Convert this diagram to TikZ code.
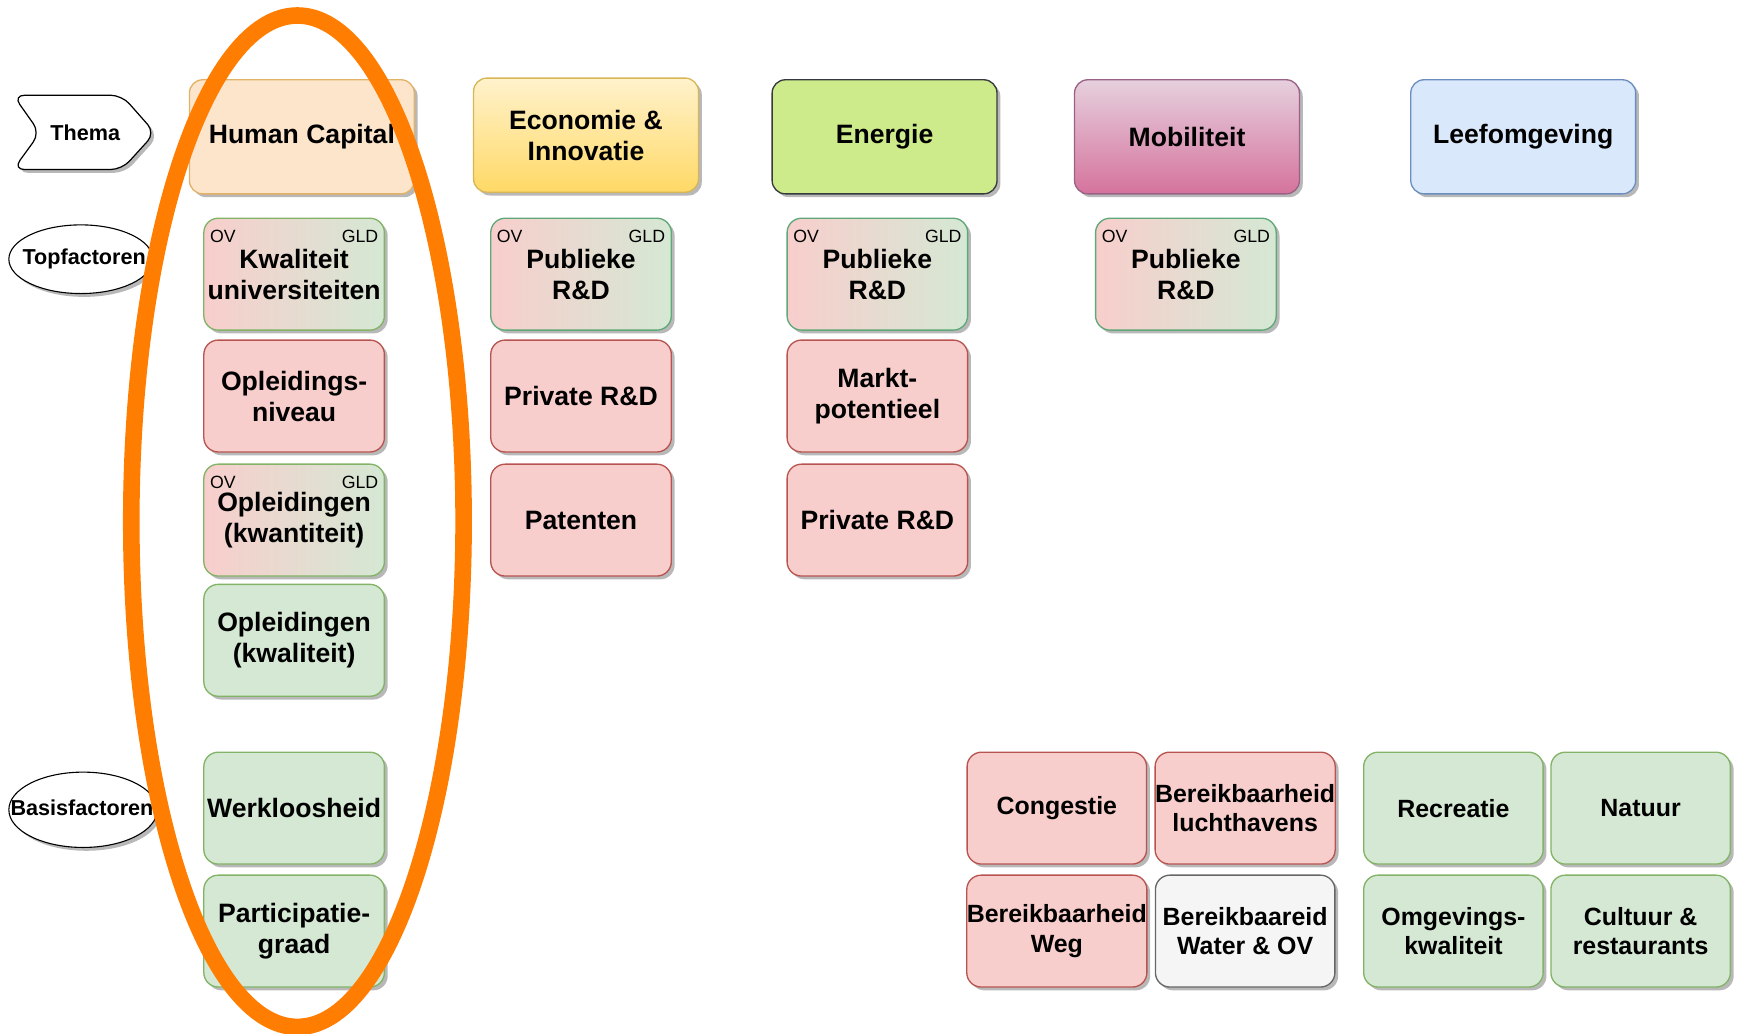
\documentclass[tikz,border=0pt]{standalone}
\usepackage{fontspec}
\setmainfont{Liberation Sans}
\usetikzlibrary{shadows,shapes.geometric}
\definecolor{pinkF}{HTML}{F8CECC}
\definecolor{pinkD}{HTML}{B85450}
\definecolor{greenF}{HTML}{D5E8D4}
\definecolor{greenD}{HTML}{82B366}
\definecolor{gradD}{HTML}{5FA878}
\definecolor{greyF}{HTML}{F5F5F5}
\definecolor{greyD}{HTML}{666666}
\definecolor{hcF}{HTML}{FDE5CC}
\definecolor{hcD}{HTML}{E2B266}
\definecolor{ecTop}{HTML}{FFF2CC}
\definecolor{ecBot}{HTML}{FFD966}
\definecolor{ecD}{HTML}{D6B656}
\definecolor{enF}{HTML}{CDEB8B}
\definecolor{enD}{HTML}{36393D}
\definecolor{moTop}{HTML}{E6D0DE}
\definecolor{moBot}{HTML}{D5739D}
\definecolor{moD}{HTML}{996185}
\definecolor{leF}{HTML}{DAE8FC}
\definecolor{leD}{HTML}{6C8EBF}
\definecolor{orangeC}{HTML}{FF7D00}
\begin{document}
\begin{tikzpicture}[x=1pt,y=-1pt,
  shade/.style={drop shadow={shadow xshift=3pt,shadow yshift=-3pt,opacity=0.28,fill=black}},
  box/.style={shade, rounded corners=13pt, line width=1.2pt, minimum width=163pt, minimum height=101pt,
    align=center, inner sep=0pt, font=\bfseries\fontsize{24}{28}\selectfont},
  theme/.style={box, rounded corners=12pt, minimum width=203pt, minimum height=103pt},
  pinkbox/.style={box, fill=pinkF, draw=pinkD},
  greenbox/.style={box, fill=greenF, draw=greenD},
  greybox/.style={box, fill=greyF, draw=greyD},
  gradbox/.style={box, left color=pinkF, right color=greenF, draw=gradD},
  small/.style={font=\bfseries\fontsize{22.5}{27}\selectfont},
  tag/.style={font=\fontsize{16}{16}\selectfont, inner sep=0pt},
  lbl/.style={font=\bfseries\fontsize{19.5}{20}\selectfont, inner sep=0pt},
  oval/.style={shade, ellipse, draw, fill=white, line width=1pt, inner sep=0pt}
]
\useasboundingbox (0,0) rectangle (1568,933);

% ---- left labels
\path[shade, draw, fill=white, line width=1.1pt, rounded corners=10pt]
  (12,86) -- (110,86) -- (140,120) -- (110,153) -- (12,153) -- (36,120) -- cycle;
\node[lbl] (thema) at (77,120) {Thema};
\node[oval, minimum width=130pt, minimum height=62pt] (topf) at (73,234) {};
\node[lbl] (topft) at (76,234) {Topfactoren};
\node[oval, minimum width=134pt, minimum height=68pt] (basis) at (75,731) {};
\node[lbl] (basist) at (74,729) {Basisfactoren};

% ---- themes
\node[theme, fill=hcF, draw=hcD] (hc) at (272.5,123.5) {Human Capital};
\node[theme, top color=ecTop, bottom color=ecBot, draw=ecD] (ec) at (529,122) {Economie \&\\Innovatie};
\node[theme, fill=enF, draw=enD] (en) at (798.5,123.5) {Energie};
\node[theme, top color=moTop, bottom color=moBot, draw=moD] (mo) at (1071.5,123.5) {Mobiliteit};
\node[theme, fill=leF, draw=leD] (le) at (1375,123.5) {Leefomgeving};

% ---- Human Capital column
\node[gradbox, draw=greenD] (hc1) at (265.5,247.5) {Kwaliteit\\universiteiten};
\node[pinkbox] (hc2) at (265.5,357.5) {Opleidings-\\niveau};
\node[gradbox, draw=greenD] (hc3) at (265.5,469.5) {Opleidingen\\(kwantiteit)};
\node[greenbox] (hc4) at (265.5,578) {Opleidingen\\(kwaliteit)};
\node[greenbox] (hc5) at (265.5,729.5) {Werkloosheid};
\node[greenbox] (hc6) at (265.5,840.5) {Participatie-\\graad};

% ---- Economie column
\node[gradbox] (ec1) at (524.5,247.5) {Publieke\\R\&D};
\node[pinkbox] (ec2) at (524.5,357.5) {Private R\&D};
\node[pinkbox] (ec3) at (524.5,469.5) {Patenten};

% ---- Energie column
\node[gradbox] (en1) at (792,247.5) {Publieke\\R\&D};
\node[pinkbox] (en2) at (792,357.5) {Markt-\\potentieel};
\node[pinkbox] (en3) at (792,469.5) {Private R\&D};

% ---- Mobiliteit column
\node[gradbox] (mo1) at (1070.5,247.5) {Publieke\\R\&D};

% ---- OV / GLD tags
\foreach \b in {hc1,hc3,ec1,en1,mo1}{
  \node[tag, anchor=north west] (\b ov) at ([xshift=6pt,yshift=-11pt]\b.north west) {OV};
  \node[tag, anchor=north east] (\b gld) at ([xshift=-6pt,yshift=-11pt]\b.north east) {GLD};
}

% ---- basisfactoren mobiliteit / leefomgeving
\node[pinkbox, small, minimum width=162pt] (bm1) at (954,729.5) {Congestie};
\node[pinkbox, small, minimum width=162pt] (bm2) at (1124,729.5) {Bereikbaarheid\\luchthavens};
\node[pinkbox, small, minimum width=162pt] (bm3) at (954,840.5) {Bereikbaarheid\\Weg};
\node[greybox, small, minimum width=162pt] (bm4) at (1124,840.5) {Bereikbaareid\\Water \& OV};
\node[greenbox, small, minimum width=162pt] (bl1) at (1312,729.5) {Recreatie};
\node[greenbox, small, minimum width=162pt] (bl2) at (1481,729.5) {Natuur};
\node[greenbox, small, minimum width=162pt] (bl3) at (1312,840.5) {Omgevings-\\kwaliteit};
\node[greenbox, small, minimum width=162pt] (bl4) at (1481,840.5) {Cultuur \&\\restaurants};

% ---- orange highlight
\node[ellipse, draw=orangeC, line width=15pt, inner sep=0pt, outer sep=0pt,
  minimum width=300pt, minimum height=913pt] (highlight) at (268.5,470.5) {};
\end{tikzpicture}
\end{document}
